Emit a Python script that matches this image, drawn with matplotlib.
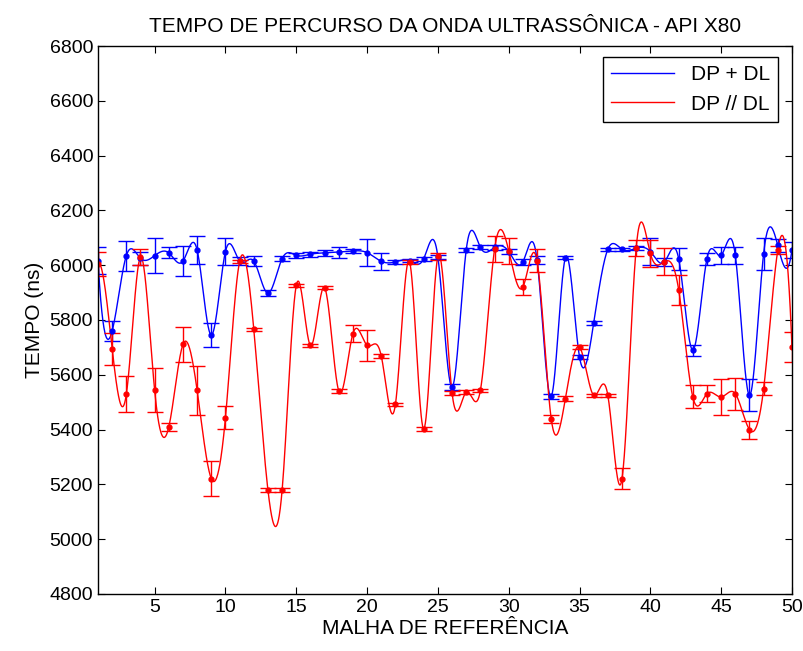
import numpy as np
import matplotlib
matplotlib.use("Agg")
import matplotlib.pyplot as plt

plt.rcParams['font.family'] = ['Liberation Sans', 'DejaVu Sans']

# Malha de referência (1..50)
malha = np.arange(1, 51)

# DP + DL (azul) - tempo médio e desvio
tempo_dp_mais_dl = [6017, 5760, 6035, 6025, 6035, 6045, 6015, 6055, 5745, 6050,
                    6015, 6015, 5898, 6024, 6036, 6040, 6045, 6048, 6052, 6046,
                    6014, 6012, 6017, 6024, 6030, 5555, 6056, 6065, 6065, 6050,
                    6012, 6020, 5521, 6027, 5665, 5789, 6058, 6058, 6062, 6050,
                    6012, 6024, 5690, 6024, 6036, 6036, 5525, 6042, 6072, 6055]
erro_dp_mais_dl = [50, 35, 55, 25, 65, 20, 55, 50, 45, 50,
                   15, 18, 12, 8, 8, 10, 10, 20, 8, 50,
                   30, 7, 7, 7, 8, 10, 7, 7, 10, 10,
                   10, 15, 8, 6, 6, 6, 6, 6, 8, 48,
                   15, 40, 20, 22, 30, 30, 58, 58, 25, 30]

# DP // DL (vermelho)
tempo_dp_par_dl = [6005, 5695, 5529, 6030, 5543, 5410, 5711, 5543, 5221, 5444,
                   6014, 5766, 5179, 5179, 5926, 5707, 5918, 5541, 5750, 5707,
                   5669, 5492, 6012, 5403, 6032, 5534, 5537, 5543, 6058, 6053,
                   5920, 6016, 5440, 5513, 5701, 5525, 5525, 5221, 6062, 6043,
                   6013, 5911, 5519, 5531, 5519, 5531, 5400, 5549, 6055, 5703]
erro_dp_par_dl = [45, 58, 65, 30, 80, 15, 65, 88, 65, 43,
                  6, 5, 8, 8, 5, 6, 6, 8, 30, 55,
                  6, 6, 8, 7, 12, 6, 6, 6, 48, 48,
                  30, 42, 15, 8, 8, 5, 5, 37, 30, 48,
                  48, 55, 42, 30, 67, 58, 33, 23, 15, 55]


def spline_not_a_knot(x, y, xs):
    # spline cúbica tipo MATLAB (not-a-knot), espaçamento uniforme
    x = np.asarray(x, float)
    y = np.asarray(y, float)
    n = len(x)
    h = x[1] - x[0]
    A = np.zeros((n, n))
    b = np.zeros(n)
    A[0, 0:3] = [1, -2, 1]
    A[-1, -3:] = [1, -2, 1]
    for i in range(1, n - 1):
        A[i, i - 1:i + 2] = [1, 4, 1]
        b[i] = 6 * (y[i + 1] - 2 * y[i] + y[i - 1]) / h ** 2
    M = np.linalg.solve(A, b)
    idx = np.clip(((xs - x[0]) // h).astype(int), 0, n - 2)
    a = (xs - x[idx]) / h
    return (M[idx] * (1 - a) ** 3 / 6 + M[idx + 1] * a ** 3 / 6) * h ** 2 \
        + (y[idx] - M[idx] * h ** 2 / 6) * (1 - a) + (y[idx + 1] - M[idx + 1] * h ** 2 / 6) * a


xs = np.linspace(1, 50, 2000)

fig = plt.figure(figsize=(8.04, 6.51), dpi=100)
ax = fig.add_axes([0.1219, 0.0876, 0.8631, 0.8417])

ax.errorbar(malha, tempo_dp_mais_dl, yerr=erro_dp_mais_dl, fmt='.', color='blue',
            markersize=7, elinewidth=1.0, capsize=6, capthick=1.0)
l1, = ax.plot(xs, spline_not_a_knot(malha, tempo_dp_mais_dl, xs), color='blue', lw=1.0)
ax.errorbar(malha, tempo_dp_par_dl, yerr=erro_dp_par_dl, fmt='.', color='red',
            markersize=7, elinewidth=1.0, capsize=6, capthick=1.0)
l2, = ax.plot(xs, spline_not_a_knot(malha, tempo_dp_par_dl, xs), color='red', lw=1.0)

ax.set_xlim(1, 50)
ax.set_ylim(4800, 6800)
ax.set_xticks(np.arange(5, 51, 5))
ax.set_yticks(np.arange(4800, 6801, 200))
ax.tick_params(direction='in', top=True, right=True, length=5, labelsize=14)
for s in ax.spines.values():
    s.set_linewidth(1.0)

ax.set_title("TEMPO DE PERCURSO DA ONDA ULTRASSÔNICA - API X80", fontsize=15, pad=10)
ax.set_xlabel("MALHA DE REFERÊNCIA", fontsize=15, labelpad=2)
ax.set_ylabel("TEMPO (ns)", fontsize=15, labelpad=4)

leg = ax.legend([l1, l2], ["DP + DL", "DP // DL"], loc='upper right', fontsize=15,
                fancybox=False, edgecolor='black', framealpha=1, handlelength=3,
                bbox_to_anchor=(0.98, 0.98), borderaxespad=0.0)
leg.get_frame().set_linewidth(1.0)

fig.savefig("out.png", dpi=100)
